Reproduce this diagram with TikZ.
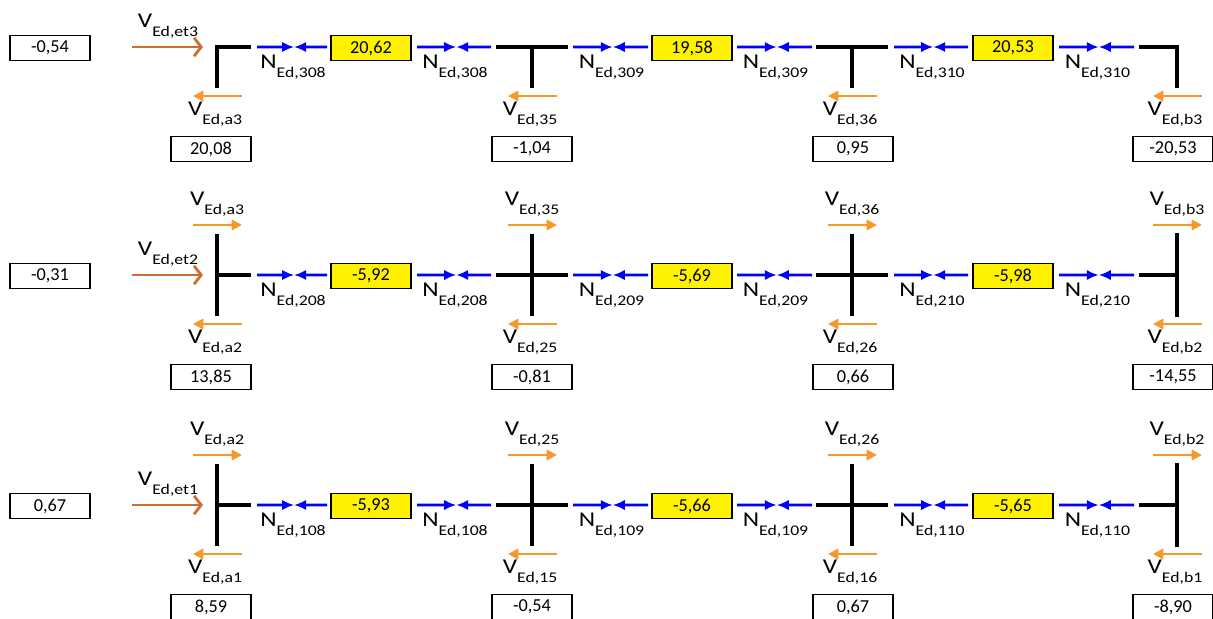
\documentclass[tikz,border=0pt]{standalone}
\usepackage{fontspec}
\setmainfont{Carlito}
\newfontfamily\lblfont{Carlito}[FakeStretch=1.2]
\usetikzlibrary{arrows.meta,calc}

\definecolor{etbrown}{RGB}{204,110,50}
\definecolor{vorange}{RGB}{247,152,40}
\newcommand{\frc}[2]{#1\raisebox{-6pt}{\fontsize{10.5}{10.5}\selectfont #2}}

\begin{document}
\begin{tikzpicture}[x=0.025cm, y=-0.025cm,
  beam/.style={line width=2.2pt},
  naxial/.style={line width=2pt, blue, -{Latex[length=3mm,width=2.6mm]}},
  vshear/.style={line width=2pt, vorange, -{Triangle[length=2.6mm,width=2.6mm]}},
  vstory/.style={line width=2pt, etbrown, -{Straight Barb[length=1.8mm,width=4.6mm]}},
  vbox/.style={rectangle, draw, line width=0.8pt, fill=white, minimum width=2cm,
               minimum height=0.62cm, inner sep=0pt, font=\fontsize{13}{13}\selectfont},
  nbox/.style={vbox, fill=yellow},
  flab/.style={inner sep=0pt, font=\lblfont\fontsize{15}{15}\selectfont}
]
  \useasboundingbox (0,0) rectangle (1213,619);

  % Etages : efforts normaux et efforts d'etage
  \foreach \r/\y/\et/\na/\nb/\nc in {1/505/{0,67}/{-5,93}/{-5,66}/{-5,65},
                                    2/275/{-0,31}/{-5,92}/{-5,69}/{-5,98},
                                    3/47/{-0,54}/{20,62}/{19,58}/{20,53}} {
    \foreach \k/\x in {a/217, 5/532, 6/852, b/1177}
      \coordinate (j\r\k) at (\x,\y);
    \node[nbox] (y\r1) at (371,\y+1) {\na};
    \node[nbox] (y\r2) at (692,\y+1) {\nb};
    \node[nbox] (y\r3) at (1013,\y+1) {\nc};
    \foreach \s/\xl/\xr/\nn in {1/257/327/08, 2/417/491/08, 3/573/648/09,
                                4/737/812/09, 5/894/968/10, 6/1059/1134/10} {
      \coordinate (l\r\s) at (\xl,\y);
      \coordinate (r\r\s) at (\xr,\y);
      \coordinate (m\r\s) at ($(l\r\s)!0.53!(r\r\s)$);
      \draw[naxial] (l\r\s) -- (m\r\s);
      \draw[naxial] (r\r\s) -- (m\r\s);
      \node[flab, anchor=north] (n\r\s) at ($(l\r\s)!0.5!(r\r\s)+(1,8)$) {\frc{N}{Ed,\r\nn}};
    }
    \node[vbox] (et\r) at (50,\y+1) {\et};
    \coordinate (es\r) at (132,\y);
    \coordinate (ee\r) at (203,\y);
    \draw[vstory] (es\r) -- (ee\r);
    \node[flab, anchor=north] (etl\r) at (168,\y-33) {\frc{V}{Ed,et\r}};
  }

  % Cadres
  \draw[beam] ($(j3a)+(0,41)$) -- (j3a) -- ++(34,0);
  \draw[beam] ($(j35)+(-36,0)$) -- ++(72,0) (j35) -- ++(0,41);
  \draw[beam] ($(j36)+(-36,0)$) -- ++(72,0) (j36) -- ++(0,41);
  \draw[beam] ($(j3b)+(-38,0)$) -- (j3b) -- ++(0,41);
  \foreach \r in {1,2} {
    \draw[beam] ($(j\r a)+(0,-41)$) -- ++(0,82) (j\r a) -- ++(34,0);
    \draw[beam] ($(j\r5)+(-36,0)$) -- ++(72,0) ($(j\r5)+(0,-41)$) -- ++(0,82);
    \draw[beam] ($(j\r6)+(-36,0)$) -- ++(72,0) ($(j\r6)+(0,-41)$) -- ++(0,82);
    \draw[beam] ($(j\r b)+(0,-42)$) -- ++(0,84) (j\r b) -- ++(-38,0);
  }

  % Efforts tranchants sous les noeuds
  \foreach \r/\k/\dx/\lo/\v in {3/a/-6/a3/{20,08}, 3/5/0/35/{-1,04}, 3/6/1/36/{0,95}, 3/b/-4/b3/{-20,53},
                                2/a/-6/a2/{13,85}, 2/5/0/25/{-0,81}, 2/6/1/26/{0,66}, 2/b/-4/b2/{-14,55},
                                1/a/-6/a1/{8,59}, 1/5/0/15/{-0,54}, 1/6/1/16/{0,67}, 1/b/-4/b1/{-8,90}} {
    \draw[vshear] ($(j\r\k)+(25,49)$) -- ++(-49,0);
    \node[flab, anchor=north] (vl\r\k) at ($(j\r\k)+(-2,55)$) {\frc{V}{Ed,\lo}};
    \node[vbox] (vb\r\k) at ($(j\r\k)+(\dx,102)$) {\v};
  }

  % Efforts tranchants au-dessus
  \foreach \r/\k/\hi in {2/a/a3, 2/5/35, 2/6/36, 2/b/b3, 1/a/a2, 1/5/25, 1/6/26, 1/b/b2} {
    \draw[vshear] ($(j\r\k)+(-24,-50)$) -- ++(49,0);
    \node[flab, anchor=north] (vh\r\k) at ($(j\r\k)+(0,-83)$) {\frc{V}{Ed,\hi}};
  }
\end{tikzpicture}
\end{document}
